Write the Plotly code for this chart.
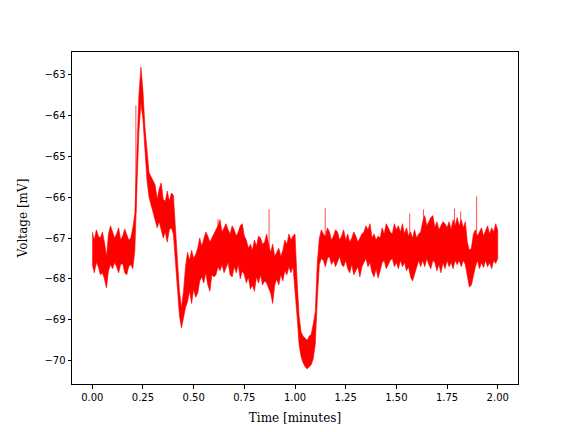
import plotly.graph_objects as go

# Time grid in minutes (0.00 .. 2.00, step 0.01)
time_min = [round(i * 0.01, 2) for i in range(201)]

upper_mv = [
    -66.85, -67.05, -66.80, -66.95, -67.00, -66.85, -67.10, -67.45, -66.90, -66.70,
    -66.85, -67.00, -66.90, -66.75, -67.05, -66.95, -66.78, -66.90, -67.05, -67.00,
    -66.75, -66.40, -64.90, -63.50, -62.82, -63.40, -64.30, -64.90, -65.40, -65.50,
    -65.60, -65.70, -66.05, -65.80, -65.65, -66.05, -66.10, -65.85, -66.10, -65.90,
    -65.95, -66.70, -67.60, -68.30, -68.70, -68.30, -67.70, -67.35, -67.55, -67.30,
    -67.50, -67.40, -67.25, -67.00, -67.20, -67.05, -66.85, -66.95, -67.10, -67.00,
    -66.90, -66.80, -66.70, -66.55, -66.85, -66.75, -66.65, -66.80, -66.90, -66.70,
    -66.80, -66.95, -66.85, -66.70, -66.65, -66.95, -67.05, -67.25, -67.15, -67.30,
    -67.05, -67.20, -66.95, -67.00, -67.15, -67.10, -66.90, -67.15, -67.35, -67.15,
    -67.45, -67.35, -67.25, -67.45, -67.30, -67.05, -67.15, -66.90, -67.05, -66.95,
    -66.90, -68.00, -68.90, -69.30, -69.40, -69.45, -69.50, -69.40, -69.35, -69.10,
    -68.80, -67.60, -67.00, -66.80, -66.90, -66.95, -66.75, -66.85, -67.05, -66.95,
    -66.80, -66.85, -67.05, -66.95, -66.80, -67.05, -66.90, -67.10, -67.00, -66.85,
    -66.95, -67.10, -67.00, -66.90, -66.85, -66.70, -66.80, -66.65, -67.00, -66.90,
    -67.05, -66.95, -67.00, -66.75, -66.90, -66.65, -66.75, -66.85, -66.90, -66.65,
    -66.80, -66.70, -66.85, -66.65, -66.90, -66.75, -66.95, -66.85, -67.00, -66.80,
    -67.00, -66.90, -66.85, -66.60, -66.45, -66.70, -66.60, -66.50, -66.45, -66.75,
    -66.60, -66.80, -66.70, -66.60, -66.65, -66.75, -66.60, -66.80, -66.55, -66.70,
    -66.50, -66.70, -66.55, -66.75, -66.60, -67.10, -67.30, -67.25, -66.90, -66.80,
    -66.95, -66.85, -66.75, -66.95, -66.80, -66.70, -66.90, -66.75, -66.85, -66.65,
    -66.80,
]

# Lower envelope of the recorded voltage (mV)
lower_mv = [
    -67.65, -67.85, -67.60, -67.70, -67.90, -67.85, -68.00, -68.22, -67.80, -67.65,
    -67.75, -67.60, -67.70, -67.85, -67.65, -67.62, -67.85, -67.90, -67.70, -67.65,
    -67.75, -67.30, -65.80, -64.40, -63.70, -64.10, -64.90, -65.60, -66.00, -66.20,
    -66.40, -66.55, -66.75, -66.60, -66.80, -67.00, -66.85, -67.10, -66.80, -66.75,
    -66.90, -67.40, -68.20, -68.90, -69.20, -69.00, -68.70, -68.55, -68.30, -68.60,
    -68.25, -68.45, -68.35, -68.05, -67.95, -68.10, -67.85, -68.15, -68.30, -67.90,
    -67.95, -67.90, -67.70, -67.80, -67.65, -67.85, -67.75, -67.60, -67.90, -67.95,
    -67.70, -67.85, -67.65, -68.00, -67.80, -67.90, -68.10, -67.95, -68.25, -68.15,
    -68.30, -67.95, -68.10, -67.90, -68.15, -68.05, -68.10, -68.20, -68.35, -68.60,
    -68.15, -68.00, -68.15, -67.90, -68.05, -67.80, -67.90, -67.70, -67.85, -67.70,
    -68.20, -68.90, -69.60, -69.90, -70.05, -70.15, -70.20, -70.15, -70.10, -69.95,
    -69.60, -68.50, -67.65, -67.50, -67.55, -67.70, -67.50, -67.45, -67.65, -67.55,
    -67.70, -67.60, -67.45, -67.65, -67.70, -67.55, -67.75, -67.85, -67.65, -67.90,
    -67.80, -67.70, -67.95, -67.70, -67.60, -67.50, -67.70, -67.60, -67.85, -67.95,
    -67.75, -67.98, -67.80, -67.60, -67.55, -67.75, -67.65, -67.55, -67.50, -67.70,
    -67.60, -67.75, -67.55, -67.70, -67.60, -67.80, -67.70, -67.95, -68.05, -67.85,
    -67.70, -67.55, -67.70, -67.55, -67.70, -67.50, -67.65, -67.75, -67.55, -67.60,
    -67.80, -67.65, -67.85, -67.60, -67.75, -67.55, -67.70, -67.60, -67.75, -67.55,
    -67.65, -67.55, -67.70, -67.55, -67.65, -67.95, -68.20, -68.15, -67.95, -67.70,
    -67.55, -67.75, -67.60, -67.72, -67.55, -67.70, -67.60, -67.75, -67.55, -67.62,
    -67.50,
]

# Isolated noise spikes: time (min), base value and tip value (mV)
spike_time = [0.215, 0.620, 0.872, 1.149, 1.566, 1.634, 1.787, 1.817, 1.896]
spike_base = [-66.40, -66.80, -67.20, -66.90, -66.90, -66.60, -66.70, -66.70, -66.85]
spike_tip = [-63.76, -66.54, -66.30, -66.27, -66.40, -66.30, -66.28, -66.35, -65.98]

x_ticks = [0.0, 0.25, 0.5, 0.75, 1.0, 1.25, 1.5, 1.75, 2.0]
x_tick_text = ["0.00", "0.25", "0.50", "0.75", "1.00", "1.25", "1.50", "1.75", "2.00"]
y_ticks = [-70, -69, -68, -67, -66, -65, -64, -63]
y_tick_text = ["\u221270", "\u221269", "\u221268", "\u221267", "\u221266", "\u221265", "\u221264", "\u221263"]

RED = "#ff0000"

fig = go.Figure()

# Dense noisy trace rendered as a filled band between envelopes
band_x = time_min + time_min[::-1]
band_y = upper_mv + lower_mv[::-1]
fig.add_trace(go.Scatter(
    x=band_x, y=band_y, mode="lines", fill="toself",
    fillcolor=RED, line=dict(color=RED, width=0.6),
    hoverinfo="skip", showlegend=False,
))

# Spikes as short vertical segments
sx, sy = [], []
for t, b, tip in zip(spike_time, spike_base, spike_tip):
    sx += [t, t, None]
    sy += [b, tip, None]
fig.add_trace(go.Scatter(
    x=sx, y=sy, mode="lines", line=dict(color="rgba(255,0,0,0.7)", width=1),
    hoverinfo="skip", showlegend=False,
))

axis_common = dict(
    showgrid=False, zeroline=False, showline=True, linecolor="black", linewidth=1,
    mirror=True, ticks="outside", ticklen=3.5, tickwidth=0.8, tickcolor="black",
    tickfont=dict(family="DejaVu Sans", size=10, color="black"),
    automargin=False,
)

fig.update_layout(
    width=576, height=432,
    margin=dict(l=72, r=58, t=52, b=48, pad=0),
    paper_bgcolor="white", plot_bgcolor="white",
    xaxis=dict(
        range=[-0.1, 2.1], tickvals=x_ticks, ticktext=x_tick_text,
        title=dict(text="Time [minutes]", font=dict(family="DejaVu Serif", size=12, color="black"), standoff=12),
        **axis_common,
    ),
    yaxis=dict(
        range=[-70.569, -62.451], tickvals=y_ticks, ticktext=y_tick_text,
        title=dict(text="Voltage [mV]", font=dict(family="DejaVu Serif", size=12, color="black"), standoff=14),
        **axis_common,
    ),
)

fig.write_html("out.html", config={"displayModeBar": False},
               post_script="document.body.style.margin='0';")
